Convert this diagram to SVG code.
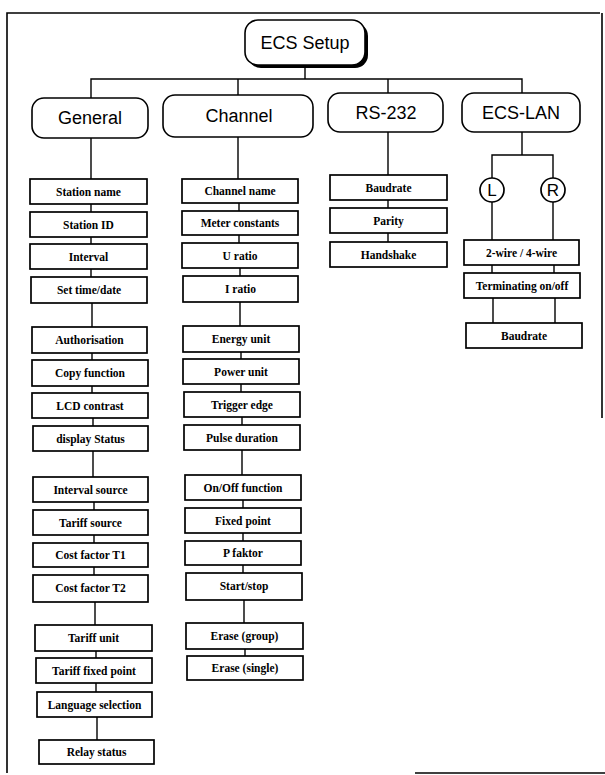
<svg xmlns="http://www.w3.org/2000/svg" width="605" height="775" viewBox="0 0 605 775">
<style>
.frame{fill:none;stroke:#000;stroke-width:1.6}
.c{fill:none;stroke:#000;stroke-width:1.4}
.hb{fill:#fff;stroke:#000;stroke-width:1.6}
.bx{fill:#fff;stroke:#000;stroke-width:1.7}
.ht{font-family:"Liberation Sans",Arial,sans-serif;font-size:18px;text-anchor:middle;fill:#000}
.bt{font-family:"Liberation Serif","Times New Roman",serif;font-size:11.5px;font-weight:bold;text-anchor:middle;fill:#000}
.ct{font-family:"Liberation Sans",Arial,sans-serif;font-size:17px;text-anchor:middle;fill:#000}
</style>
<rect width="605" height="775" fill="#fff"/>
<g id="frame">
<path class="frame" d="M7,773 V13 H600"/>
<path class="frame" d="M602,13 V418"/>
<path class="frame" d="M415,773 H605"/>
</g>
<g id="connectors">
<path class="c" d="M305,65 V79 M91,98 V79 H522 V93 M238,79 V95 M388,79 V93"/>
<path class="c" d="M91,138 V179 M91,204 V212 M91,237 V244 M91,269 V277 M92,303 V327 M92,353 V360 M92,386 V393 M93,418 V426 M93,451 V477 M94,502 V510 M94,535 V543 M94,567 V575 M95,602 V625 M96,651 V658 M96,683 V692 M97,717 V740"/>
<path class="c" d="M238,137 V179 M239,203 V211 M239,235 V243 M240,268 V276 M240,302 V326 M241,352 V359 M241,384 V392 M242,417 V425 M242,450 V475 M243,500 V508 M243,533 V541 M243,565 V573 M244,600 V623 M245,649 V656"/>
<path class="c" d="M388,132 V175 M388,200 V208 M388,233 V242"/>
<path class="c" d="M522,132 V155 M492,178 V155 H553 V178 M492,202 V240 M553,202 V240 M492,265 V273 M554,265 V273 M493,298 V323 M555,298 V323"/>
</g>
<g id="ecs-setup">
<rect x="248" y="23" width="120" height="45" rx="13" fill="#000"/>
<rect class="hb" x="245" y="20" width="120" height="45" rx="13"/>
<text class="ht" x="305" y="49">ECS Setup</text>
</g>
<g id="general"><rect class="hb" x="32" y="98" width="116" height="40" rx="12"/><text class="ht" x="90" y="124">General</text></g>
<g id="channel"><rect class="hb" x="163" y="95" width="150" height="42" rx="12"/><text class="ht" x="239" y="122">Channel</text></g>
<g id="rs232"><rect class="hb" x="328" y="93" width="115" height="39" rx="12"/><text class="ht" x="386" y="119">RS-232</text></g>
<g id="ecs-lan"><rect class="hb" x="462" y="93" width="118" height="39" rx="12"/><text class="ht" x="521" y="119">ECS-LAN</text></g>

<g id="g1"><rect class="bx" x="30" y="179" width="117" height="25"/><text class="bt" x="88.5" y="195.5">Station name</text></g>
<g id="g2"><rect class="bx" x="30" y="212" width="117" height="25"/><text class="bt" x="88.5" y="228.5">Station ID</text></g>
<g id="g3"><rect class="bx" x="30" y="244" width="117" height="25"/><text class="bt" x="88.5" y="260.5">Interval</text></g>
<g id="g4"><rect class="bx" x="31" y="277" width="116" height="26"/><text class="bt" x="89" y="294">Set time/date</text></g>
<g id="g5"><rect class="bx" x="32" y="327" width="115" height="26"/><text class="bt" x="89.5" y="344">Authorisation</text></g>
<g id="g6"><rect class="bx" x="32" y="360" width="116" height="26"/><text class="bt" x="90" y="377">Copy function</text></g>
<g id="g7"><rect class="bx" x="32" y="393" width="116" height="25"/><text class="bt" x="90" y="409.5">LCD contrast</text></g>
<g id="g8"><rect class="bx" x="33" y="426" width="115" height="25"/><text class="bt" x="90.5" y="442.5">display Status</text></g>
<g id="g9"><rect class="bx" x="33" y="477" width="115" height="25"/><text class="bt" x="90.5" y="493.5">Interval source</text></g>
<g id="g10"><rect class="bx" x="33" y="510" width="115" height="25"/><text class="bt" x="90.5" y="526.5">Tariff source</text></g>
<g id="g11"><rect class="bx" x="33" y="543" width="115" height="24"/><text class="bt" x="90.5" y="559">Cost factor T1</text></g>
<g id="g12"><rect class="bx" x="33" y="575" width="115" height="27"/><text class="bt" x="90.5" y="592">Cost factor T2</text></g>
<g id="g13"><rect class="bx" x="35" y="625" width="117" height="26"/><text class="bt" x="93.5" y="642">Tariff unit</text></g>
<g id="g14"><rect class="bx" x="36" y="658" width="116" height="25"/><text class="bt" x="94" y="674.5">Tariff fixed point</text></g>
<g id="g15"><rect class="bx" x="37" y="692" width="115" height="25"/><text class="bt" x="94.5" y="708.5">Language selection</text></g>
<g id="g16"><rect class="bx" x="39" y="740" width="115" height="24"/><text class="bt" x="96.5" y="756">Relay status</text></g>

<g id="c1"><rect class="bx" x="182" y="179" width="116" height="24"/><text class="bt" x="240" y="195">Channel name</text></g>
<g id="c2"><rect class="bx" x="182" y="211" width="116" height="24"/><text class="bt" x="240" y="227">Meter constants</text></g>
<g id="c3"><rect class="bx" x="182" y="243" width="116" height="25"/><text class="bt" x="240" y="259.5">U ratio</text></g>
<g id="c4"><rect class="bx" x="183" y="276" width="115" height="26"/><text class="bt" x="240.5" y="293">I ratio</text></g>
<g id="c5"><rect class="bx" x="183" y="326" width="116" height="26"/><text class="bt" x="241" y="343">Energy unit</text></g>
<g id="c6"><rect class="bx" x="183" y="359" width="116" height="25"/><text class="bt" x="241" y="375.5">Power unit</text></g>
<g id="c7"><rect class="bx" x="184" y="392" width="116" height="25"/><text class="bt" x="242" y="408.5">Trigger edge</text></g>
<g id="c8"><rect class="bx" x="184" y="425" width="116" height="25"/><text class="bt" x="242" y="441.5">Pulse duration</text></g>
<g id="c9"><rect class="bx" x="185" y="475" width="116" height="25"/><text class="bt" x="243" y="491.5">On/Off function</text></g>
<g id="c10"><rect class="bx" x="185" y="508" width="116" height="25"/><text class="bt" x="243" y="524.5">Fixed point</text></g>
<g id="c11"><rect class="bx" x="185" y="541" width="116" height="24"/><text class="bt" x="243" y="557">P faktor</text></g>
<g id="c12"><rect class="bx" x="186" y="573" width="116" height="27"/><text class="bt" x="244" y="590">Start/stop</text></g>
<g id="c13"><rect class="bx" x="186" y="623" width="117" height="26"/><text class="bt" x="244.5" y="640">Erase (group)</text></g>
<g id="c14"><rect class="bx" x="187" y="656" width="116" height="24"/><text class="bt" x="245" y="672">Erase (single)</text></g>

<g id="r1"><rect class="bx" x="330" y="175" width="117" height="25"/><text class="bt" x="388.5" y="191.5">Baudrate</text></g>
<g id="r2"><rect class="bx" x="330" y="208" width="117" height="25"/><text class="bt" x="388.5" y="224.5">Parity</text></g>
<g id="r3"><rect class="bx" x="330" y="242" width="117" height="25"/><text class="bt" x="388.5" y="258.5">Handshake</text></g>

<g id="lan-l"><circle class="bx" cx="492" cy="190" r="12"/><text class="ct" x="492" y="196">L</text></g>
<g id="lan-r"><circle class="bx" cx="553" cy="190" r="12"/><text class="ct" x="553" y="196">R</text></g>
<g id="l1"><rect class="bx" x="464" y="240" width="115" height="25"/><text class="bt" x="521.5" y="256.5">2-wire / 4-wire</text></g>
<g id="l2"><rect class="bx" x="464" y="273" width="116" height="25"/><text class="bt" x="522" y="289.5">Terminating on/off</text></g>
<g id="l3"><rect class="bx" x="466" y="323" width="116" height="25"/><text class="bt" x="524" y="339.5">Baudrate</text></g>
</svg>
